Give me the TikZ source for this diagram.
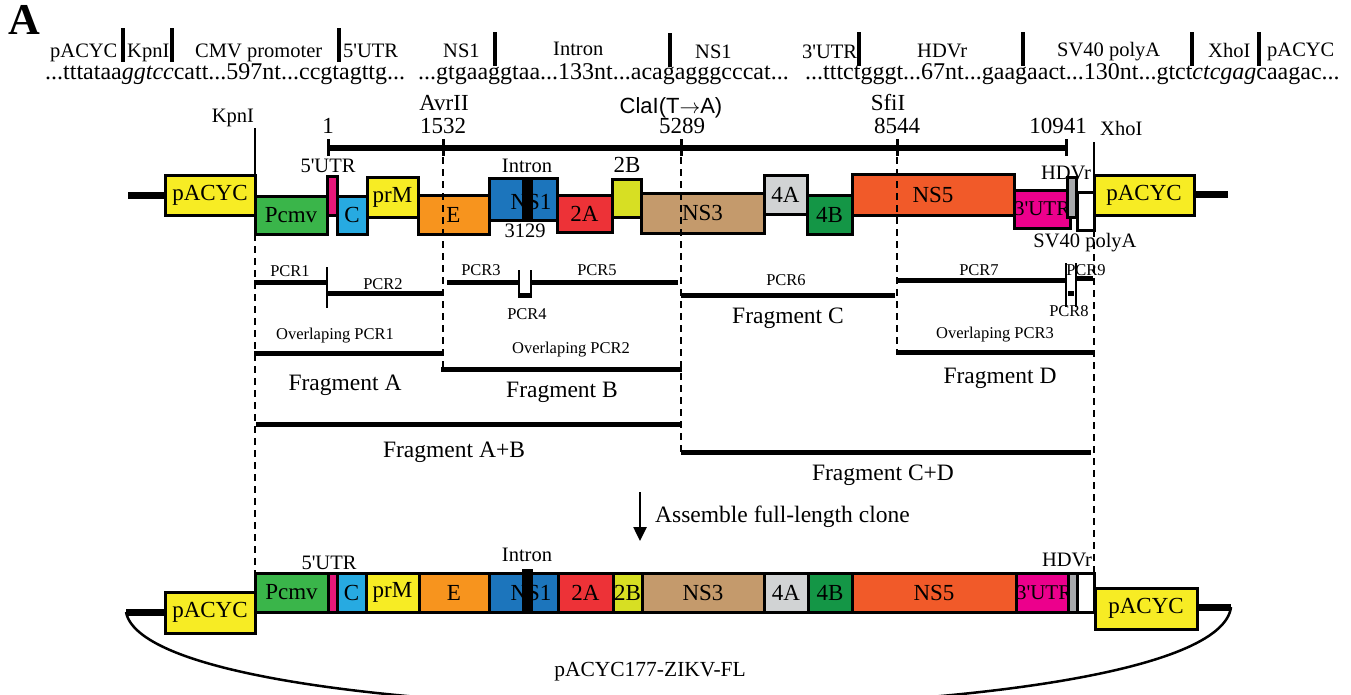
\documentclass[tikz,border=0pt]{standalone}
\usepackage{fontspec}
\setmainfont{Liberation Serif}
\newfontfamily\sansf{Liberation Sans}
\usetikzlibrary{arrows.meta}

\definecolor{cPacyc}{RGB}{247,236,36}
\definecolor{cPcmv}{RGB}{58,181,74}
\definecolor{cUtrFive}{RGB}{230,23,122}
\definecolor{cCap}{RGB}{39,170,225}
\definecolor{cEnv}{RGB}{247,148,30}
\definecolor{cNsOne}{RGB}{28,117,188}
\definecolor{cNsTwoA}{RGB}{237,50,55}
\definecolor{cNsTwoB}{RGB}{215,223,35}
\definecolor{cNsThree}{RGB}{196,154,108}
\definecolor{cNsFourA}{RGB}{209,211,212}
\definecolor{cNsFourB}{RGB}{20,150,70}
\definecolor{cNsFive}{RGB}{241,90,41}
\definecolor{cUtrThree}{RGB}{236,0,140}
\definecolor{cHdv}{RGB}{167,169,172}

\newcommand\seqsize{\fontsize{24}{26}\selectfont}
\newcommand\tagsize{\fontsize{20.5}{23}\selectfont}
\newcommand\boxsize{\fontsize{23}{25}\selectfont}
\newcommand\pcrsize{\fontsize{16.5}{19}\selectfont}
\newcommand\fragsize{\fontsize{23.5}{26}\selectfont}
\newcommand\apo{\textquotesingle}

\begin{document}
\begin{tikzpicture}[x=1pt,y=-1pt,
    gene/.style={draw,line width=3pt,inner sep=0pt,outer sep=0pt,anchor=north west,font=\boxsize},
    lbl/.style={inner sep=0pt,anchor=base},
    spine/.style={line width=7pt},
    sepbar/.style={line width=3.5pt},
    pcr/.style={line width=5pt},
    guide/.style={line width=2pt,dash pattern=on 7pt off 5pt},
    hair/.style={line width=1.5pt}]
    \useasboundingbox (0,0) rectangle (1351,694);
    % panel letter
    \node[lbl,anchor=base west,font=\fontsize{44}{46}\selectfont\bfseries] (panel) at (8,34) {A};
    % junction sequences
    \node[lbl,anchor=base west,font=\tagsize] (hPacycL) at (50,57) {pACYC};
    \node[lbl,anchor=base west,font=\tagsize] (hKpn) at (127,57) {KpnI};
    \node[lbl,anchor=base west,font=\tagsize] (hCmv) at (195,57) {CMV promoter};
    \node[lbl,anchor=base west,font=\tagsize] (hUtrFive) at (343,57) {5\apo UTR};
    \node[lbl,anchor=base west,font=\seqsize] (hSeqOne) at (45,79) {...tttataa\textit{ggtcc}catt...597nt...ccgtagttg...};
    \draw[sepbar] (123,28) -- (123,62) (172,28) -- (172,62) (339,28) -- (339,62);
    \node[lbl,anchor=base west,font=\tagsize] (hNsOneA) at (443,57) {NS1};
    \node[lbl,anchor=base west,font=\tagsize] (hIntron) at (553,55) {Intron};
    \node[lbl,anchor=base west,font=\tagsize] (hNsOneB) at (695,58) {NS1};
    \node[lbl,anchor=base west,font=\seqsize] (hSeqTwo) at (418,79) {...gtgaaggtaa...133nt...acagagggcccat...};
    \draw[sepbar] (495,32) -- (495,66) (670,33) -- (670,67);
    \node[lbl,anchor=base west,font=\tagsize] (hUtrThree) at (802,58) {3\apo UTR};
    \node[lbl,anchor=base west,font=\tagsize] (hHdv) at (917,57) {HDVr};
    \node[lbl,anchor=base west,font=\tagsize] (hSv) at (1057,56) {SV40 polyA};
    \node[lbl,anchor=base west,font=\tagsize] (hXho) at (1208,57) {XhoI};
    \node[lbl,anchor=base west,font=\tagsize] (hPacycR) at (1267,56) {pACYC};
    \node[lbl,anchor=base west,font=\seqsize] (hSeqThree) at (805,79) {...tttctgggt...67nt...gaagaact...130nt...gtct\textit{ctcgag}caagac...};
    \draw[sepbar] (859,32) -- (859,66) (1023,32) -- (1023,66) (1192,32) -- (1192,66) (1259,32) -- (1259,66);
    % genome ruler
    \node[lbl,font=\tagsize] (kpn) at (233,122) {KpnI};
    \node[lbl,font=\boxsize] (pOne) at (328,133) {1};
    \node[lbl,font=\boxsize] (avr) at (444,110) {AvrII};
    \node[lbl,font=\boxsize] (pAvr) at (443,133) {1532};
    \node[lbl,font=\fontsize{22}{24}\sansf] (cla) at (671,113) {ClaI(T$\rightarrow$A)};
    \node[lbl,font=\boxsize] (pCla) at (682,133) {5289};
    \node[lbl,font=\boxsize] (sfi) at (888,110) {SfiI};
    \node[lbl,font=\boxsize] (pSfi) at (897,133) {8544};
    \node[lbl,font=\boxsize] (pEnd) at (1058,133) {10941};
    \node[lbl,anchor=base west,font=\tagsize] (xho) at (1100,135) {XhoI};
    \coordinate (rOne) at (328,148);
    \coordinate (rAvr) at (443,148);
    \coordinate (rCla) at (681,148);
    \coordinate (rSfi) at (897,148);
    \coordinate (rEnd) at (1066,148);
    \draw[line width=6pt] (rOne) -- (rEnd);
    \foreach \t in {rOne,rAvr,rCla,rSfi,rEnd}
        \draw[line width=3pt] ([yshift=-8]\t) -- ([yshift=9]\t);
    % starting construct
    \draw[spine] (128,195) -- (166,195) (1193,194) -- (1228,194);
    \node[gene,fill=cPacyc,minimum width=90,minimum height=40] (tPacycL) at (165,175) {pACYC};
    \node[gene,fill=cPcmv,minimum width=72,minimum height=38] (tPcmv) at (255,196) {Pcmv};
    \node[gene,fill=cUtrFive,minimum width=10,minimum height=39] (tUtrFive) at (327,176) {};
    \node[gene,fill=cCap,minimum width=30,minimum height=38] (tCap) at (337,196) {C};
    \node[gene,fill=cPacyc,minimum width=51,minimum height=40] (tPrm) at (367,177) {prM};
    \node[gene,fill=cEnv,minimum width=71,minimum height=39] (tEnv) at (418,195) {E};
    \node[gene,fill=cNsOne,minimum width=68,minimum height=42] (tNsOne) at (489,178) {};
    \node[lbl,font=\boxsize,anchor=center] (tNsOneL) at (531,202) {NS1};
    \fill (522,178) rectangle (533,220);
    \node[gene,fill=cNsTwoA,minimum width=55,minimum height=37] (tNsTwoA) at (557,195) {2A};
    \node[gene,fill=cNsTwoB,minimum width=29,minimum height=38] (tNsTwoB) at (612,179) {};
    \node[gene,fill=cNsThree,minimum width=123,minimum height=40] (tNsThree) at (641,193) {NS3};
    \node[gene,fill=cNsFourA,minimum width=43,minimum height=39] (tNsFourA) at (764,175) {4A};
    \node[gene,fill=cNsFourB,minimum width=45,minimum height=39] (tNsFourB) at (807,195) {4B};
    \node[gene,fill=cNsFive,minimum width=162,minimum height=41] (tNsFive) at (852,174) {NS5};
    \node[gene,fill=cUtrThree,minimum width=53,minimum height=38,font=\fontsize{21}{23}\selectfont] (tUtrThree) at (1014,190) {3\apo UTR};
    \node[gene,fill=cHdv,minimum width=9,minimum height=40] (tHdv) at (1067,177) {};
    \node[gene,fill=white,minimum width=17,minimum height=38] (tSv) at (1077,192) {};
    \node[gene,fill=cPacyc,minimum width=100,minimum height=40] (tPacycR) at (1094,175) {pACYC};
    \node[lbl,font=\tagsize] (tUtrFiveL) at (328,172) {5\apo UTR};
    \node[lbl,font=\tagsize] (tIntronL) at (527,172) {Intron};
    \node[lbl,font=\tagsize] (tPos) at (525,237) {3129};
    \node[lbl,font=\boxsize] (tNsTwoBL) at (627,172) {2B};
    \node[lbl,font=\tagsize] (tHdvL) at (1066,179) {HDVr};
    \node[lbl,font=\tagsize] (tSvL) at (1085,247) {SV40 polyA};
    \draw[line width=2.5pt] (tPacycL.north east) -- (255,128);
    \draw[line width=2.5pt] (tSv.north east) -- (1094,142);
    % PCR products
    \draw[pcr] (254,282) -- (327,282);
    \draw[pcr] (327,293) -- (443,293);
    \draw[hair] (327,267) -- (327,308);
    \draw[pcr] (447,282) -- (519,282);
    \draw[pcr] (519,295) -- (531,295);
    \draw[hair] (519,270) -- (519,298) (531,270) -- (531,298);
    \draw[pcr] (531,282) -- (678,282);
    \draw[pcr] (681,295) -- (895,295);
    \draw[pcr] (897,280) -- (1066,280);
    \draw[pcr] (1068,293) -- (1074,293);
    \draw[hair] (1066,263) -- (1066,307) (1076,263) -- (1076,307);
    \draw[pcr] (1076,278) -- (1093,278);
    \node[lbl,font=\pcrsize] (pcrOne) at (290,276) {PCR1};
    \node[lbl,font=\pcrsize] (pcrTwo) at (383,289) {PCR2};
    \node[lbl,font=\pcrsize] (pcrThree) at (481,275) {PCR3};
    \node[lbl,font=\pcrsize] (pcrFour) at (527,319) {PCR4};
    \node[lbl,font=\pcrsize] (pcrFive) at (597,275) {PCR5};
    \node[lbl,font=\pcrsize] (pcrSix) at (786,285) {PCR6};
    \node[lbl,font=\pcrsize] (pcrSeven) at (979,275) {PCR7};
    \node[lbl,font=\pcrsize] (pcrEight) at (1069,316) {PCR8};
    \node[lbl,font=\pcrsize] (pcrNine) at (1086,275) {PCR9};
    % overlapping PCR and fragments
    \draw[pcr] (254,353) -- (443,353);
    \draw[pcr] (441,369) -- (682,369);
    \draw[pcr] (896,352) -- (1095,352);
    \draw[pcr] (256,424) -- (680,424);
    \draw[pcr] (681,452) -- (1091,452);
    \node[lbl,font=\pcrsize] (ovOne) at (335,339) {Overlaping PCR1};
    \node[lbl,font=\pcrsize] (ovTwo) at (571,353) {Overlaping PCR2};
    \node[lbl,font=\pcrsize] (ovThree) at (995,338) {Overlaping PCR3};
    \node[lbl,font=\fragsize] (frA) at (345,390) {Fragment A};
    \node[lbl,font=\fragsize] (frB) at (562,397) {Fragment B};
    \node[lbl,font=\fragsize] (frC) at (788,323) {Fragment C};
    \node[lbl,font=\fragsize] (frD) at (1000,383) {Fragment D};
    \node[lbl,font=\fragsize] (frAB) at (454,457) {Fragment A+B};
    \node[lbl,font=\fragsize] (frCD) at (883,480) {Fragment C+D};
    % assembly step
    \coordinate (asmTop) at (640,492);
    \coordinate (asmTip) at (640,541);
    \draw[line width=2.5pt,-{Triangle[length=14pt,width=13pt]}] (asmTop) -- (asmTip);
    \node[lbl,anchor=base west,font=\fragsize] (asm) at (655,522) {Assemble full-length clone};
    % full-length clone
    \draw[spine] (126,612) -- (166,612) (1196,607) -- (1231,607);
    \node[gene,fill=cPacyc,minimum width=90,minimum height=41] (bPacycL) at (165,592) {pACYC};
    \node[gene,fill=cPcmv,minimum width=73,minimum height=39] (bPcmv) at (255,573) {Pcmv};
    \node[gene,fill=cUtrFive,minimum width=9,minimum height=39] (bUtrFive) at (328,573) {};
    \node[gene,fill=cCap,minimum width=29,minimum height=39] (bCap) at (337,573) {C};
    \node[gene,fill=cPacyc,minimum width=53,minimum height=39] (bPrm) at (366,573) {prM};
    \node[gene,fill=cEnv,minimum width=70,minimum height=39] (bEnv) at (419,573) {E};
    \node[gene,fill=cNsOne,minimum width=69,minimum height=39] (bNsOne) at (489,573) {};
    \node[lbl,font=\boxsize,anchor=center] (bNsOneL) at (531,593) {NS1};
    \fill (522,569) rectangle (533,612);
    \node[gene,fill=cNsTwoA,minimum width=55,minimum height=39] (bNsTwoA) at (558,573) {2A};
    \node[gene,fill=cNsTwoB,minimum width=29,minimum height=39] (bNsTwoB) at (613,573) {2B};
    \node[gene,fill=cNsThree,minimum width=122,minimum height=39] (bNsThree) at (642,573) {NS3};
    \node[gene,fill=cNsFourA,minimum width=44,minimum height=39] (bNsFourA) at (764,573) {4A};
    \node[gene,fill=cNsFourB,minimum width=44,minimum height=39] (bNsFourB) at (808,573) {4B};
    \node[gene,fill=cNsFive,minimum width=164,minimum height=39] (bNsFive) at (852,573) {NS5};
    \node[gene,fill=cUtrThree,minimum width=52,minimum height=39,font=\fontsize{21}{23}\selectfont] (bUtrThree) at (1016,573) {3\apo UTR};
    \node[gene,fill=cHdv,minimum width=9,minimum height=39] (bHdv) at (1068,573) {};
    \node[gene,fill=white,minimum width=17,minimum height=39] (bSv) at (1077,573) {};
    \node[gene,fill=cPacyc,minimum width=102,minimum height=41] (bPacycR) at (1095,588) {pACYC};
    \node[lbl,font=\tagsize] (bUtrFiveL) at (329,569) {5\apo UTR};
    \node[lbl,font=\tagsize] (bIntronL) at (527,561) {Intron};
    \node[lbl,font=\tagsize] (bHdvL) at (1067,566) {HDVr};
    \begin{scope}
        \clip (0,0) rectangle (1351,694);
        \draw[line width=2.5pt] (126,612) .. controls (150,740) and (1215,740) .. (1231,607);
    \end{scope}
    \node[lbl,font=\fontsize{21.5}{24}\selectfont] (plasmid) at (650,676) {pACYC177-ZIKV-FL};
    % guide lines
    \draw[guide] (tPcmv.south west) -- (bPcmv.north west);
    \draw[guide] ([yshift=3]rAvr) -- (443,369);
    \draw[guide] ([yshift=3]rCla) -- (681,452);
    \draw[guide] ([yshift=3]rSfi) -- (897,352);
    \draw[guide] (tSv.south east) -- (bSv.north east);
\end{tikzpicture}
\end{document}
